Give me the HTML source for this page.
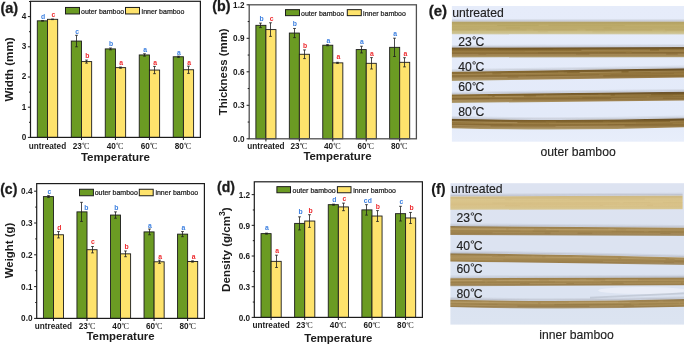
<!DOCTYPE html><html><head><meta charset="utf-8"><style>html,body{margin:0;padding:0;background:#fff;width:685px;height:346px;overflow:hidden}svg{display:block;will-change:transform}</style></head><body>
<svg width="685" height="346" viewBox="0 0 685 346">
<rect width="685" height="346" fill="#fff"/>
<rect x="37.30" y="20.83" width="10.19" height="116.57" fill="#6b9b23" stroke="#1c1c1c" stroke-width="0.9"/>
<path d="M42.50 20.53V21.13M41.10 20.53h2.8M41.10 21.13h2.8" stroke="#1e1e1e" stroke-width="0.8" fill="none"/>
<text x="43.09" y="18.93" font-size="6.8" font-weight="bold" text-anchor="middle" fill="#3b7fe0" font-family='"Liberation Sans", sans-serif' >d</text>
<rect x="47.49" y="19.32" width="10.19" height="118.08" fill="#fee36c" stroke="#1c1c1c" stroke-width="0.9"/>
<path d="M52.50 19.02V19.62M51.10 19.02h2.8M51.10 19.62h2.8" stroke="#1e1e1e" stroke-width="0.8" fill="none"/>
<text x="53.29" y="17.42" font-size="6.8" font-weight="bold" text-anchor="middle" fill="#ee2a2e" font-family='"Liberation Sans", sans-serif' >c</text>
<rect x="71.28" y="41.06" width="10.19" height="96.34" fill="#6b9b23" stroke="#1c1c1c" stroke-width="0.9"/>
<path d="M76.50 35.32V46.80M75.10 35.32h2.8M75.10 46.80h2.8" stroke="#1e1e1e" stroke-width="0.8" fill="none"/>
<text x="77.07" y="33.72" font-size="6.8" font-weight="bold" text-anchor="middle" fill="#3b7fe0" font-family='"Liberation Sans", sans-serif' >c</text>
<rect x="81.47" y="61.60" width="10.19" height="75.80" fill="#fee36c" stroke="#1c1c1c" stroke-width="0.9"/>
<path d="M86.50 60.09V63.11M85.10 60.09h2.8M85.10 63.11h2.8" stroke="#1e1e1e" stroke-width="0.8" fill="none"/>
<text x="87.27" y="58.49" font-size="6.8" font-weight="bold" text-anchor="middle" fill="#ee2a2e" font-family='"Liberation Sans", sans-serif' >b</text>
<rect x="105.26" y="48.91" width="10.19" height="88.49" fill="#6b9b23" stroke="#1c1c1c" stroke-width="0.9"/>
<path d="M110.50 48.01V49.82M109.10 48.01h2.8M109.10 49.82h2.8" stroke="#1e1e1e" stroke-width="0.8" fill="none"/>
<text x="111.05" y="46.41" font-size="6.8" font-weight="bold" text-anchor="middle" fill="#3b7fe0" font-family='"Liberation Sans", sans-serif' >b</text>
<rect x="115.45" y="67.64" width="10.19" height="69.76" fill="#fee36c" stroke="#1c1c1c" stroke-width="0.9"/>
<path d="M120.50 67.03V68.24M119.10 67.03h2.8M119.10 68.24h2.8" stroke="#1e1e1e" stroke-width="0.8" fill="none"/>
<text x="121.25" y="65.43" font-size="6.8" font-weight="bold" text-anchor="middle" fill="#ee2a2e" font-family='"Liberation Sans", sans-serif' >a</text>
<rect x="139.24" y="54.95" width="10.19" height="82.45" fill="#6b9b23" stroke="#1c1c1c" stroke-width="0.9"/>
<path d="M144.50 53.75V56.16M143.10 53.75h2.8M143.10 56.16h2.8" stroke="#1e1e1e" stroke-width="0.8" fill="none"/>
<text x="145.03" y="52.15" font-size="6.8" font-weight="bold" text-anchor="middle" fill="#3b7fe0" font-family='"Liberation Sans", sans-serif' >a</text>
<rect x="149.43" y="70.05" width="10.19" height="67.35" fill="#fee36c" stroke="#1c1c1c" stroke-width="0.9"/>
<path d="M154.50 66.43V73.68M153.10 66.43h2.8M153.10 73.68h2.8" stroke="#1e1e1e" stroke-width="0.8" fill="none"/>
<text x="155.23" y="64.83" font-size="6.8" font-weight="bold" text-anchor="middle" fill="#ee2a2e" font-family='"Liberation Sans", sans-serif' >a</text>
<rect x="173.22" y="56.77" width="10.19" height="80.63" fill="#6b9b23" stroke="#1c1c1c" stroke-width="0.9"/>
<path d="M178.50 56.16V57.37M177.10 56.16h2.8M177.10 57.37h2.8" stroke="#1e1e1e" stroke-width="0.8" fill="none"/>
<text x="179.01" y="54.56" font-size="6.8" font-weight="bold" text-anchor="middle" fill="#3b7fe0" font-family='"Liberation Sans", sans-serif' >a</text>
<rect x="183.41" y="69.75" width="10.19" height="67.65" fill="#fee36c" stroke="#1c1c1c" stroke-width="0.9"/>
<path d="M188.50 66.13V73.38M187.10 66.13h2.8M187.10 73.38h2.8" stroke="#1e1e1e" stroke-width="0.8" fill="none"/>
<text x="189.21" y="64.53" font-size="6.8" font-weight="bold" text-anchor="middle" fill="#ee2a2e" font-family='"Liberation Sans", sans-serif' >a</text>
<rect x="30.50" y="1.30" width="169.90" height="136.10" fill="none" stroke="#1c1c1c" stroke-width="1.2"/>
<path d="M27.90 137.40H30.50" stroke="#1c1c1c" stroke-width="1"/>
<text x="26.30" y="139.80" font-size="8.2" font-weight="bold" text-anchor="end" fill="#1c1c1c" font-family='"Liberation Sans", sans-serif' >0</text>
<path d="M27.90 107.20H30.50" stroke="#1c1c1c" stroke-width="1"/>
<text x="26.30" y="109.60" font-size="8.2" font-weight="bold" text-anchor="end" fill="#1c1c1c" font-family='"Liberation Sans", sans-serif' >1</text>
<path d="M27.90 77.00H30.50" stroke="#1c1c1c" stroke-width="1"/>
<text x="26.30" y="79.40" font-size="8.2" font-weight="bold" text-anchor="end" fill="#1c1c1c" font-family='"Liberation Sans", sans-serif' >2</text>
<path d="M27.90 46.80H30.50" stroke="#1c1c1c" stroke-width="1"/>
<text x="26.30" y="49.20" font-size="8.2" font-weight="bold" text-anchor="end" fill="#1c1c1c" font-family='"Liberation Sans", sans-serif' >3</text>
<path d="M27.90 16.60H30.50" stroke="#1c1c1c" stroke-width="1"/>
<text x="26.30" y="19.00" font-size="8.2" font-weight="bold" text-anchor="end" fill="#1c1c1c" font-family='"Liberation Sans", sans-serif' >4</text>
<path d="M29.00 122.30H30.50" stroke="#1c1c1c" stroke-width="1"/>
<path d="M29.00 92.10H30.50" stroke="#1c1c1c" stroke-width="1"/>
<path d="M29.00 61.90H30.50" stroke="#1c1c1c" stroke-width="1"/>
<path d="M29.00 31.70H30.50" stroke="#1c1c1c" stroke-width="1"/>
<path d="M29.00 1.50H30.50" stroke="#1c1c1c" stroke-width="1"/>
<path d="M47.49 137.40V140.00" stroke="#1c1c1c" stroke-width="1"/>
<text x="47.49" y="148.50" font-size="8.2" font-weight="bold" text-anchor="middle" fill="#1c1c1c" font-family='"Liberation Sans", sans-serif' >untreated</text>
<path d="M81.47 137.40V140.00" stroke="#1c1c1c" stroke-width="1"/>
<text x="72.77" y="148.50" font-size="8.2" font-weight="bold" text-anchor="start" fill="#1c1c1c" font-family='"Liberation Sans", sans-serif' >23</text>
<circle cx="83.26" cy="143.74" r="0.74" fill="none" stroke="#1c1c1c" stroke-width="0.55"/>
<text x="83.91" y="148.50" font-size="8.20" fill="#1c1c1c" font-family='"Liberation Serif", serif'>C</text>
<path d="M115.45 137.40V140.00" stroke="#1c1c1c" stroke-width="1"/>
<text x="106.75" y="148.50" font-size="8.2" font-weight="bold" text-anchor="start" fill="#1c1c1c" font-family='"Liberation Sans", sans-serif' >40</text>
<circle cx="117.24" cy="143.74" r="0.74" fill="none" stroke="#1c1c1c" stroke-width="0.55"/>
<text x="117.89" y="148.50" font-size="8.20" fill="#1c1c1c" font-family='"Liberation Serif", serif'>C</text>
<path d="M149.43 137.40V140.00" stroke="#1c1c1c" stroke-width="1"/>
<text x="140.73" y="148.50" font-size="8.2" font-weight="bold" text-anchor="start" fill="#1c1c1c" font-family='"Liberation Sans", sans-serif' >60</text>
<circle cx="151.22" cy="143.74" r="0.74" fill="none" stroke="#1c1c1c" stroke-width="0.55"/>
<text x="151.87" y="148.50" font-size="8.20" fill="#1c1c1c" font-family='"Liberation Serif", serif'>C</text>
<path d="M183.41 137.40V140.00" stroke="#1c1c1c" stroke-width="1"/>
<text x="174.71" y="148.50" font-size="8.2" font-weight="bold" text-anchor="start" fill="#1c1c1c" font-family='"Liberation Sans", sans-serif' >80</text>
<circle cx="185.20" cy="143.74" r="0.74" fill="none" stroke="#1c1c1c" stroke-width="0.55"/>
<text x="185.85" y="148.50" font-size="8.20" fill="#1c1c1c" font-family='"Liberation Serif", serif'>C</text>
<text x="115.45" y="160.90" font-size="11.55" font-weight="bold" text-anchor="middle" fill="#1c1c1c" font-family='"Liberation Sans", sans-serif' >Temperature</text>
<text transform="translate(12.80,69.35) rotate(-90)" x="0" y="0" font-size="11.7" font-weight="bold" text-anchor="middle" fill="#1c1c1c" font-family='"Liberation Sans", sans-serif'>Width (mm)</text>
<rect x="65.50" y="7.45" width="14.00" height="6.50" fill="#6b9b23" stroke="#1c1c1c" stroke-width="1.0"/>
<text x="81.00" y="13.60" font-size="7.0" font-weight="normal" text-anchor="start" fill="#1c1c1c" font-family='"Liberation Sans", sans-serif' stroke="#1c1c1c" stroke-width="0.22">outer bamboo</text>
<rect x="125.50" y="7.45" width="14.00" height="6.50" fill="#fee36c" stroke="#1c1c1c" stroke-width="1.0"/>
<text x="141.60" y="13.60" font-size="7.0" font-weight="normal" text-anchor="start" fill="#1c1c1c" font-family='"Liberation Sans", sans-serif' stroke="#1c1c1c" stroke-width="0.22">inner bamboo</text>
<text x="0.40" y="12.70" font-size="14.5" font-weight="bold" text-anchor="start" fill="#1c1c1c" font-family='"Liberation Sans", sans-serif' stroke="#1c1c1c" stroke-width="0.3">(a)</text>
<rect x="255.89" y="25.34" width="10.03" height="113.46" fill="#6b9b23" stroke="#1c1c1c" stroke-width="0.9"/>
<path d="M260.50 23.11V27.58M259.10 23.11h2.8M259.10 27.58h2.8" stroke="#1e1e1e" stroke-width="0.8" fill="none"/>
<text x="261.50" y="21.11" font-size="6.8" font-weight="bold" text-anchor="middle" fill="#3b7fe0" font-family='"Liberation Sans", sans-serif' >b</text>
<rect x="265.92" y="29.59" width="10.03" height="109.21" fill="#fee36c" stroke="#1c1c1c" stroke-width="0.9"/>
<path d="M270.50 22.77V36.40M269.10 22.77h2.8M269.10 36.40h2.8" stroke="#1e1e1e" stroke-width="0.8" fill="none"/>
<text x="271.54" y="20.77" font-size="6.8" font-weight="bold" text-anchor="middle" fill="#ee2a2e" font-family='"Liberation Sans", sans-serif' >c</text>
<rect x="289.33" y="33.05" width="10.03" height="105.75" fill="#6b9b23" stroke="#1c1c1c" stroke-width="0.9"/>
<path d="M294.50 28.47V37.63M293.10 28.47h2.8M293.10 37.63h2.8" stroke="#1e1e1e" stroke-width="0.8" fill="none"/>
<text x="294.94" y="26.47" font-size="6.8" font-weight="bold" text-anchor="middle" fill="#3b7fe0" font-family='"Liberation Sans", sans-serif' >b</text>
<rect x="299.36" y="54.27" width="10.03" height="84.53" fill="#fee36c" stroke="#1c1c1c" stroke-width="0.9"/>
<path d="M304.50 49.91V58.62M303.10 49.91h2.8M303.10 58.62h2.8" stroke="#1e1e1e" stroke-width="0.8" fill="none"/>
<text x="304.98" y="47.91" font-size="6.8" font-weight="bold" text-anchor="middle" fill="#ee2a2e" font-family='"Liberation Sans", sans-serif' >b</text>
<rect x="322.77" y="45.22" width="10.03" height="93.58" fill="#6b9b23" stroke="#1c1c1c" stroke-width="0.9"/>
<path d="M327.50 44.66V45.78M326.10 44.66h2.8M326.10 45.78h2.8" stroke="#1e1e1e" stroke-width="0.8" fill="none"/>
<text x="328.38" y="42.66" font-size="6.8" font-weight="bold" text-anchor="middle" fill="#3b7fe0" font-family='"Liberation Sans", sans-serif' >a</text>
<rect x="332.80" y="62.86" width="10.03" height="75.94" fill="#fee36c" stroke="#1c1c1c" stroke-width="0.9"/>
<path d="M337.50 62.31V63.42M336.10 62.31h2.8M336.10 63.42h2.8" stroke="#1e1e1e" stroke-width="0.8" fill="none"/>
<text x="338.42" y="58.91" font-size="6.8" font-weight="bold" text-anchor="middle" fill="#ee2a2e" font-family='"Liberation Sans", sans-serif' >a</text>
<rect x="356.21" y="49.58" width="10.03" height="89.22" fill="#6b9b23" stroke="#1c1c1c" stroke-width="0.9"/>
<path d="M361.50 46.23V52.93M360.10 46.23h2.8M360.10 52.93h2.8" stroke="#1e1e1e" stroke-width="0.8" fill="none"/>
<text x="361.82" y="44.23" font-size="6.8" font-weight="bold" text-anchor="middle" fill="#3b7fe0" font-family='"Liberation Sans", sans-serif' >a</text>
<rect x="366.24" y="63.31" width="10.03" height="75.49" fill="#fee36c" stroke="#1c1c1c" stroke-width="0.9"/>
<path d="M371.50 57.62V69.01M370.10 57.62h2.8M370.10 69.01h2.8" stroke="#1e1e1e" stroke-width="0.8" fill="none"/>
<text x="371.86" y="55.62" font-size="6.8" font-weight="bold" text-anchor="middle" fill="#ee2a2e" font-family='"Liberation Sans", sans-serif' >a</text>
<rect x="389.65" y="47.34" width="10.03" height="91.46" fill="#6b9b23" stroke="#1c1c1c" stroke-width="0.9"/>
<path d="M394.50 38.19V56.50M393.10 38.19h2.8M393.10 56.50h2.8" stroke="#1e1e1e" stroke-width="0.8" fill="none"/>
<text x="395.26" y="36.19" font-size="6.8" font-weight="bold" text-anchor="middle" fill="#3b7fe0" font-family='"Liberation Sans", sans-serif' >a</text>
<rect x="399.68" y="62.31" width="10.03" height="76.49" fill="#fee36c" stroke="#1c1c1c" stroke-width="0.9"/>
<path d="M404.50 57.73V66.88M403.10 57.73h2.8M403.10 66.88h2.8" stroke="#1e1e1e" stroke-width="0.8" fill="none"/>
<text x="405.30" y="55.73" font-size="6.8" font-weight="bold" text-anchor="middle" fill="#ee2a2e" font-family='"Liberation Sans", sans-serif' >a</text>
<rect x="249.20" y="4.80" width="167.20" height="134.00" fill="none" stroke="#505050" stroke-width="1.3"/>
<path d="M246.60 138.80H249.20" stroke="#1c1c1c" stroke-width="1"/>
<text x="244.50" y="141.75" font-size="8.2" font-weight="bold" text-anchor="end" fill="#1c1c1c" font-family='"Liberation Sans", sans-serif' >0.0</text>
<path d="M246.60 105.30H249.20" stroke="#1c1c1c" stroke-width="1"/>
<text x="244.50" y="108.25" font-size="8.2" font-weight="bold" text-anchor="end" fill="#1c1c1c" font-family='"Liberation Sans", sans-serif' >0.3</text>
<path d="M246.60 71.80H249.20" stroke="#1c1c1c" stroke-width="1"/>
<text x="244.50" y="74.75" font-size="8.2" font-weight="bold" text-anchor="end" fill="#1c1c1c" font-family='"Liberation Sans", sans-serif' >0.6</text>
<path d="M246.60 38.30H249.20" stroke="#1c1c1c" stroke-width="1"/>
<text x="244.50" y="41.25" font-size="8.2" font-weight="bold" text-anchor="end" fill="#1c1c1c" font-family='"Liberation Sans", sans-serif' >0.9</text>
<path d="M246.60 4.80H249.20" stroke="#1c1c1c" stroke-width="1"/>
<text x="244.50" y="7.75" font-size="8.2" font-weight="bold" text-anchor="end" fill="#1c1c1c" font-family='"Liberation Sans", sans-serif' >1.2</text>
<path d="M247.70 122.05H249.20" stroke="#1c1c1c" stroke-width="1"/>
<path d="M247.70 88.55H249.20" stroke="#1c1c1c" stroke-width="1"/>
<path d="M247.70 55.05H249.20" stroke="#1c1c1c" stroke-width="1"/>
<path d="M247.70 21.55H249.20" stroke="#1c1c1c" stroke-width="1"/>
<path d="M265.92 138.80V141.40" stroke="#1c1c1c" stroke-width="1"/>
<text x="265.92" y="148.80" font-size="8.2" font-weight="bold" text-anchor="middle" fill="#1c1c1c" font-family='"Liberation Sans", sans-serif' >untreated</text>
<path d="M299.36 138.80V141.40" stroke="#1c1c1c" stroke-width="1"/>
<text x="290.56" y="148.80" font-size="8.2" font-weight="bold" text-anchor="start" fill="#1c1c1c" font-family='"Liberation Sans", sans-serif' >23</text>
<circle cx="301.05" cy="144.04" r="0.74" fill="none" stroke="#1c1c1c" stroke-width="0.55"/>
<text x="301.70" y="148.80" font-size="8.20" fill="#1c1c1c" font-family='"Liberation Serif", serif'>C</text>
<path d="M332.80 138.80V141.40" stroke="#1c1c1c" stroke-width="1"/>
<text x="324.00" y="148.80" font-size="8.2" font-weight="bold" text-anchor="start" fill="#1c1c1c" font-family='"Liberation Sans", sans-serif' >40</text>
<circle cx="334.49" cy="144.04" r="0.74" fill="none" stroke="#1c1c1c" stroke-width="0.55"/>
<text x="335.14" y="148.80" font-size="8.20" fill="#1c1c1c" font-family='"Liberation Serif", serif'>C</text>
<path d="M366.24 138.80V141.40" stroke="#1c1c1c" stroke-width="1"/>
<text x="357.44" y="148.80" font-size="8.2" font-weight="bold" text-anchor="start" fill="#1c1c1c" font-family='"Liberation Sans", sans-serif' >60</text>
<circle cx="367.93" cy="144.04" r="0.74" fill="none" stroke="#1c1c1c" stroke-width="0.55"/>
<text x="368.58" y="148.80" font-size="8.20" fill="#1c1c1c" font-family='"Liberation Serif", serif'>C</text>
<path d="M399.68 138.80V141.40" stroke="#1c1c1c" stroke-width="1"/>
<text x="390.88" y="148.80" font-size="8.2" font-weight="bold" text-anchor="start" fill="#1c1c1c" font-family='"Liberation Sans", sans-serif' >80</text>
<circle cx="401.37" cy="144.04" r="0.74" fill="none" stroke="#1c1c1c" stroke-width="0.55"/>
<text x="402.02" y="148.80" font-size="8.20" fill="#1c1c1c" font-family='"Liberation Serif", serif'>C</text>
<text x="337.50" y="160.10" font-size="11.4" font-weight="bold" text-anchor="middle" fill="#1c1c1c" font-family='"Liberation Sans", sans-serif' >Temperature</text>
<text transform="translate(226.60,71.80) rotate(-90)" x="0" y="0" font-size="11.4" font-weight="bold" text-anchor="middle" fill="#1c1c1c" font-family='"Liberation Sans", sans-serif'>Thickness (mm)</text>
<rect x="285.50" y="9.65" width="14.00" height="6.00" fill="#6b9b23" stroke="#1c1c1c" stroke-width="1.0"/>
<text x="301.00" y="15.50" font-size="7.0" font-weight="normal" text-anchor="start" fill="#1c1c1c" font-family='"Liberation Sans", sans-serif' stroke="#1c1c1c" stroke-width="0.22">outer bamboo</text>
<rect x="347.30" y="9.65" width="14.00" height="6.00" fill="#fee36c" stroke="#1c1c1c" stroke-width="1.0"/>
<text x="363.10" y="15.50" font-size="7.0" font-weight="normal" text-anchor="start" fill="#1c1c1c" font-family='"Liberation Sans", sans-serif' stroke="#1c1c1c" stroke-width="0.22">inner bamboo</text>
<text x="212.20" y="11.30" font-size="14.3" font-weight="bold" text-anchor="start" fill="#1c1c1c" font-family='"Liberation Sans", sans-serif' stroke="#1c1c1c" stroke-width="0.3">(b)</text>
<rect x="43.41" y="196.61" width="10.06" height="121.79" fill="#6b9b23" stroke="#1c1c1c" stroke-width="0.9"/>
<path d="M48.50 195.65V197.56M47.10 195.65h2.8M47.10 197.56h2.8" stroke="#1e1e1e" stroke-width="0.8" fill="none"/>
<text x="49.34" y="194.15" font-size="6.8" font-weight="bold" text-anchor="middle" fill="#3b7fe0" font-family='"Liberation Sans", sans-serif' >c</text>
<rect x="53.47" y="234.77" width="10.06" height="83.63" fill="#fee36c" stroke="#1c1c1c" stroke-width="0.9"/>
<path d="M58.50 231.59V237.95M57.10 231.59h2.8M57.10 237.95h2.8" stroke="#1e1e1e" stroke-width="0.8" fill="none"/>
<text x="59.40" y="230.09" font-size="6.8" font-weight="bold" text-anchor="middle" fill="#ee2a2e" font-family='"Liberation Sans", sans-serif' >d</text>
<rect x="76.95" y="211.87" width="10.06" height="106.53" fill="#6b9b23" stroke="#1c1c1c" stroke-width="0.9"/>
<path d="M81.50 202.33V221.41M80.10 202.33h2.8M80.10 221.41h2.8" stroke="#1e1e1e" stroke-width="0.8" fill="none"/>
<text x="84.18" y="209.83" font-size="6.8" font-weight="bold" text-anchor="start" fill="#3b7fe0" font-family='"Liberation Sans", sans-serif' >b</text>
<rect x="87.01" y="249.71" width="10.06" height="68.69" fill="#fee36c" stroke="#1c1c1c" stroke-width="0.9"/>
<path d="M92.50 246.53V252.89M91.10 246.53h2.8M91.10 252.89h2.8" stroke="#1e1e1e" stroke-width="0.8" fill="none"/>
<text x="92.94" y="244.23" font-size="6.8" font-weight="bold" text-anchor="middle" fill="#ee2a2e" font-family='"Liberation Sans", sans-serif' >c</text>
<rect x="110.49" y="215.05" width="10.06" height="103.35" fill="#6b9b23" stroke="#1c1c1c" stroke-width="0.9"/>
<path d="M115.50 211.87V218.23M114.10 211.87h2.8M114.10 218.23h2.8" stroke="#1e1e1e" stroke-width="0.8" fill="none"/>
<text x="116.42" y="210.37" font-size="6.8" font-weight="bold" text-anchor="middle" fill="#3b7fe0" font-family='"Liberation Sans", sans-serif' >b</text>
<rect x="120.55" y="253.85" width="10.06" height="64.55" fill="#fee36c" stroke="#1c1c1c" stroke-width="0.9"/>
<path d="M125.50 250.98V256.71M124.10 250.98h2.8M124.10 256.71h2.8" stroke="#1e1e1e" stroke-width="0.8" fill="none"/>
<text x="126.48" y="249.48" font-size="6.8" font-weight="bold" text-anchor="middle" fill="#ee2a2e" font-family='"Liberation Sans", sans-serif' >b</text>
<rect x="144.03" y="231.90" width="10.06" height="86.50" fill="#6b9b23" stroke="#1c1c1c" stroke-width="0.9"/>
<path d="M149.50 229.04V234.77M148.10 229.04h2.8M148.10 234.77h2.8" stroke="#1e1e1e" stroke-width="0.8" fill="none"/>
<text x="149.96" y="227.54" font-size="6.8" font-weight="bold" text-anchor="middle" fill="#3b7fe0" font-family='"Liberation Sans", sans-serif' >a</text>
<rect x="154.09" y="261.80" width="10.06" height="56.60" fill="#fee36c" stroke="#1c1c1c" stroke-width="0.9"/>
<path d="M159.50 260.21V263.39M158.10 260.21h2.8M158.10 263.39h2.8" stroke="#1e1e1e" stroke-width="0.8" fill="none"/>
<text x="160.02" y="258.71" font-size="6.8" font-weight="bold" text-anchor="middle" fill="#ee2a2e" font-family='"Liberation Sans", sans-serif' >a</text>
<rect x="177.57" y="234.13" width="10.06" height="84.27" fill="#6b9b23" stroke="#1c1c1c" stroke-width="0.9"/>
<path d="M182.50 231.59V236.67M181.10 231.59h2.8M181.10 236.67h2.8" stroke="#1e1e1e" stroke-width="0.8" fill="none"/>
<text x="183.50" y="230.09" font-size="6.8" font-weight="bold" text-anchor="middle" fill="#3b7fe0" font-family='"Liberation Sans", sans-serif' >a</text>
<rect x="187.63" y="261.48" width="10.06" height="56.92" fill="#fee36c" stroke="#1c1c1c" stroke-width="0.9"/>
<path d="M192.50 260.84V262.11M191.10 260.84h2.8M191.10 262.11h2.8" stroke="#1e1e1e" stroke-width="0.8" fill="none"/>
<text x="193.56" y="259.34" font-size="6.8" font-weight="bold" text-anchor="middle" fill="#ee2a2e" font-family='"Liberation Sans", sans-serif' >a</text>
<rect x="36.70" y="183.60" width="167.70" height="134.80" fill="none" stroke="#1c1c1c" stroke-width="1.2"/>
<path d="M34.10 318.40H36.70" stroke="#1c1c1c" stroke-width="1"/>
<text x="32.50" y="321.35" font-size="8.2" font-weight="bold" text-anchor="end" fill="#1c1c1c" font-family='"Liberation Sans", sans-serif' >0.0</text>
<path d="M34.10 286.60H36.70" stroke="#1c1c1c" stroke-width="1"/>
<text x="32.50" y="289.55" font-size="8.2" font-weight="bold" text-anchor="end" fill="#1c1c1c" font-family='"Liberation Sans", sans-serif' >0.1</text>
<path d="M34.10 254.80H36.70" stroke="#1c1c1c" stroke-width="1"/>
<text x="32.50" y="257.75" font-size="8.2" font-weight="bold" text-anchor="end" fill="#1c1c1c" font-family='"Liberation Sans", sans-serif' >0.2</text>
<path d="M34.10 223.00H36.70" stroke="#1c1c1c" stroke-width="1"/>
<text x="32.50" y="225.95" font-size="8.2" font-weight="bold" text-anchor="end" fill="#1c1c1c" font-family='"Liberation Sans", sans-serif' >0.3</text>
<path d="M34.10 191.20H36.70" stroke="#1c1c1c" stroke-width="1"/>
<text x="32.50" y="194.15" font-size="8.2" font-weight="bold" text-anchor="end" fill="#1c1c1c" font-family='"Liberation Sans", sans-serif' >0.4</text>
<path d="M35.20 302.50H36.70" stroke="#1c1c1c" stroke-width="1"/>
<path d="M35.20 270.70H36.70" stroke="#1c1c1c" stroke-width="1"/>
<path d="M35.20 238.90H36.70" stroke="#1c1c1c" stroke-width="1"/>
<path d="M35.20 207.10H36.70" stroke="#1c1c1c" stroke-width="1"/>
<path d="M53.47 318.40V321.00" stroke="#1c1c1c" stroke-width="1"/>
<text x="53.47" y="328.80" font-size="8.2" font-weight="bold" text-anchor="middle" fill="#1c1c1c" font-family='"Liberation Sans", sans-serif' >untreated</text>
<path d="M87.01 318.40V321.00" stroke="#1c1c1c" stroke-width="1"/>
<text x="78.81" y="328.80" font-size="8.2" font-weight="bold" text-anchor="start" fill="#1c1c1c" font-family='"Liberation Sans", sans-serif' >23</text>
<circle cx="89.30" cy="324.04" r="0.74" fill="none" stroke="#1c1c1c" stroke-width="0.55"/>
<text x="89.95" y="328.80" font-size="8.20" fill="#1c1c1c" font-family='"Liberation Serif", serif'>C</text>
<path d="M120.55 318.40V321.00" stroke="#1c1c1c" stroke-width="1"/>
<text x="112.35" y="328.80" font-size="8.2" font-weight="bold" text-anchor="start" fill="#1c1c1c" font-family='"Liberation Sans", sans-serif' >40</text>
<circle cx="122.84" cy="324.04" r="0.74" fill="none" stroke="#1c1c1c" stroke-width="0.55"/>
<text x="123.49" y="328.80" font-size="8.20" fill="#1c1c1c" font-family='"Liberation Serif", serif'>C</text>
<path d="M154.09 318.40V321.00" stroke="#1c1c1c" stroke-width="1"/>
<text x="145.89" y="328.80" font-size="8.2" font-weight="bold" text-anchor="start" fill="#1c1c1c" font-family='"Liberation Sans", sans-serif' >60</text>
<circle cx="156.38" cy="324.04" r="0.74" fill="none" stroke="#1c1c1c" stroke-width="0.55"/>
<text x="157.03" y="328.80" font-size="8.20" fill="#1c1c1c" font-family='"Liberation Serif", serif'>C</text>
<path d="M187.63 318.40V321.00" stroke="#1c1c1c" stroke-width="1"/>
<text x="179.43" y="328.80" font-size="8.2" font-weight="bold" text-anchor="start" fill="#1c1c1c" font-family='"Liberation Sans", sans-serif' >80</text>
<circle cx="189.92" cy="324.04" r="0.74" fill="none" stroke="#1c1c1c" stroke-width="0.55"/>
<text x="190.57" y="328.80" font-size="8.20" fill="#1c1c1c" font-family='"Liberation Serif", serif'>C</text>
<text x="120.55" y="340.20" font-size="11.4" font-weight="bold" text-anchor="middle" fill="#1c1c1c" font-family='"Liberation Sans", sans-serif' >Temperature</text>
<text transform="translate(12.70,250.50) rotate(-90)" x="0" y="0" font-size="11.4" font-weight="bold" text-anchor="middle" fill="#1c1c1c" font-family='"Liberation Sans", sans-serif'>Weight (g)</text>
<rect x="79.50" y="189.25" width="13.90" height="6.50" fill="#6b9b23" stroke="#1c1c1c" stroke-width="1.0"/>
<text x="94.70" y="195.40" font-size="7.0" font-weight="normal" text-anchor="start" fill="#1c1c1c" font-family='"Liberation Sans", sans-serif' stroke="#1c1c1c" stroke-width="0.22">outer bamboo</text>
<rect x="139.30" y="189.25" width="13.90" height="6.50" fill="#fee36c" stroke="#1c1c1c" stroke-width="1.0"/>
<text x="155.40" y="195.40" font-size="7.0" font-weight="normal" text-anchor="start" fill="#1c1c1c" font-family='"Liberation Sans", sans-serif' stroke="#1c1c1c" stroke-width="0.22">inner bamboo</text>
<text x="0.20" y="194.20" font-size="14.0" font-weight="bold" text-anchor="start" fill="#1c1c1c" font-family='"Liberation Sans", sans-serif' stroke="#1c1c1c" stroke-width="0.3">(c)</text>
<rect x="261.02" y="233.62" width="10.09" height="83.78" fill="#6b9b23" stroke="#1c1c1c" stroke-width="0.9"/>
<path d="M266.50 233.10V234.13M265.10 233.10h2.8M265.10 234.13h2.8" stroke="#1e1e1e" stroke-width="0.8" fill="none"/>
<text x="266.97" y="229.80" font-size="6.8" font-weight="bold" text-anchor="middle" fill="#3b7fe0" font-family='"Liberation Sans", sans-serif' >a</text>
<rect x="271.11" y="261.34" width="10.09" height="56.06" fill="#fee36c" stroke="#1c1c1c" stroke-width="0.9"/>
<path d="M276.50 255.20V267.48M275.10 255.20h2.8M275.10 267.48h2.8" stroke="#1e1e1e" stroke-width="0.8" fill="none"/>
<text x="277.05" y="253.20" font-size="6.8" font-weight="bold" text-anchor="middle" fill="#ee2a2e" font-family='"Liberation Sans", sans-serif' >a</text>
<rect x="294.64" y="223.39" width="10.09" height="94.01" fill="#6b9b23" stroke="#1c1c1c" stroke-width="0.9"/>
<path d="M299.50 216.84V229.93M298.10 216.84h2.8M298.10 229.93h2.8" stroke="#1e1e1e" stroke-width="0.8" fill="none"/>
<text x="300.59" y="213.54" font-size="6.8" font-weight="bold" text-anchor="middle" fill="#3b7fe0" font-family='"Liberation Sans", sans-serif' >b</text>
<rect x="304.73" y="221.03" width="10.09" height="96.37" fill="#fee36c" stroke="#1c1c1c" stroke-width="0.9"/>
<path d="M309.50 214.69V227.38M308.10 214.69h2.8M308.10 227.38h2.8" stroke="#1e1e1e" stroke-width="0.8" fill="none"/>
<text x="310.67" y="212.69" font-size="6.8" font-weight="bold" text-anchor="middle" fill="#ee2a2e" font-family='"Liberation Sans", sans-serif' >b</text>
<rect x="328.26" y="204.67" width="10.09" height="112.73" fill="#6b9b23" stroke="#1c1c1c" stroke-width="0.9"/>
<path d="M333.50 204.15V205.18M332.10 204.15h2.8M332.10 205.18h2.8" stroke="#1e1e1e" stroke-width="0.8" fill="none"/>
<text x="334.21" y="202.15" font-size="6.8" font-weight="bold" text-anchor="middle" fill="#3b7fe0" font-family='"Liberation Sans", sans-serif' >d</text>
<rect x="338.35" y="206.92" width="10.09" height="110.48" fill="#fee36c" stroke="#1c1c1c" stroke-width="0.9"/>
<path d="M343.50 203.13V210.70M342.10 203.13h2.8M342.10 210.70h2.8" stroke="#1e1e1e" stroke-width="0.8" fill="none"/>
<text x="344.29" y="201.13" font-size="6.8" font-weight="bold" text-anchor="middle" fill="#ee2a2e" font-family='"Liberation Sans", sans-serif' >c</text>
<rect x="361.88" y="209.88" width="10.09" height="107.52" fill="#6b9b23" stroke="#1c1c1c" stroke-width="0.9"/>
<path d="M366.50 204.67V215.10M365.10 204.67h2.8M365.10 215.10h2.8" stroke="#1e1e1e" stroke-width="0.8" fill="none"/>
<text x="367.83" y="202.67" font-size="6.8" font-weight="bold" text-anchor="middle" fill="#3b7fe0" font-family='"Liberation Sans", sans-serif' >cd</text>
<rect x="371.97" y="216.02" width="10.09" height="101.38" fill="#fee36c" stroke="#1c1c1c" stroke-width="0.9"/>
<path d="M377.50 210.60V221.44M376.10 210.60h2.8M376.10 221.44h2.8" stroke="#1e1e1e" stroke-width="0.8" fill="none"/>
<text x="377.91" y="208.60" font-size="6.8" font-weight="bold" text-anchor="middle" fill="#ee2a2e" font-family='"Liberation Sans", sans-serif' >b</text>
<rect x="395.50" y="213.67" width="10.09" height="103.73" fill="#6b9b23" stroke="#1c1c1c" stroke-width="0.9"/>
<path d="M400.50 206.30V221.03M399.10 206.30h2.8M399.10 221.03h2.8" stroke="#1e1e1e" stroke-width="0.8" fill="none"/>
<text x="401.45" y="204.30" font-size="6.8" font-weight="bold" text-anchor="middle" fill="#3b7fe0" font-family='"Liberation Sans", sans-serif' >c</text>
<rect x="405.59" y="217.96" width="10.09" height="99.44" fill="#fee36c" stroke="#1c1c1c" stroke-width="0.9"/>
<path d="M410.50 212.44V223.49M409.10 212.44h2.8M409.10 223.49h2.8" stroke="#1e1e1e" stroke-width="0.8" fill="none"/>
<text x="411.53" y="210.44" font-size="6.8" font-weight="bold" text-anchor="middle" fill="#ee2a2e" font-family='"Liberation Sans", sans-serif' >b</text>
<rect x="254.30" y="181.80" width="168.10" height="135.60" fill="none" stroke="#1c1c1c" stroke-width="1.2"/>
<path d="M251.70 317.40H254.30" stroke="#1c1c1c" stroke-width="1"/>
<text x="250.10" y="320.60" font-size="8.2" font-weight="bold" text-anchor="end" fill="#1c1c1c" font-family='"Liberation Sans", sans-serif' >0.0</text>
<path d="M251.70 286.71H254.30" stroke="#1c1c1c" stroke-width="1"/>
<text x="250.10" y="289.91" font-size="8.2" font-weight="bold" text-anchor="end" fill="#1c1c1c" font-family='"Liberation Sans", sans-serif' >0.3</text>
<path d="M251.70 256.02H254.30" stroke="#1c1c1c" stroke-width="1"/>
<text x="250.10" y="259.22" font-size="8.2" font-weight="bold" text-anchor="end" fill="#1c1c1c" font-family='"Liberation Sans", sans-serif' >0.6</text>
<path d="M251.70 225.33H254.30" stroke="#1c1c1c" stroke-width="1"/>
<text x="250.10" y="228.53" font-size="8.2" font-weight="bold" text-anchor="end" fill="#1c1c1c" font-family='"Liberation Sans", sans-serif' >0.9</text>
<path d="M251.70 194.64H254.30" stroke="#1c1c1c" stroke-width="1"/>
<text x="250.10" y="197.84" font-size="8.2" font-weight="bold" text-anchor="end" fill="#1c1c1c" font-family='"Liberation Sans", sans-serif' >1.2</text>
<path d="M252.80 302.05H254.30" stroke="#1c1c1c" stroke-width="1"/>
<path d="M252.80 271.37H254.30" stroke="#1c1c1c" stroke-width="1"/>
<path d="M252.80 240.67H254.30" stroke="#1c1c1c" stroke-width="1"/>
<path d="M252.80 209.98H254.30" stroke="#1c1c1c" stroke-width="1"/>
<path d="M271.11 317.40V320.00" stroke="#1c1c1c" stroke-width="1"/>
<text x="271.11" y="328.10" font-size="8.2" font-weight="bold" text-anchor="middle" fill="#1c1c1c" font-family='"Liberation Sans", sans-serif' >untreated</text>
<path d="M304.73 317.40V320.00" stroke="#1c1c1c" stroke-width="1"/>
<text x="296.23" y="328.10" font-size="8.2" font-weight="bold" text-anchor="start" fill="#1c1c1c" font-family='"Liberation Sans", sans-serif' >23</text>
<circle cx="306.72" cy="323.34" r="0.74" fill="none" stroke="#1c1c1c" stroke-width="0.55"/>
<text x="307.37" y="328.10" font-size="8.20" fill="#1c1c1c" font-family='"Liberation Serif", serif'>C</text>
<path d="M338.35 317.40V320.00" stroke="#1c1c1c" stroke-width="1"/>
<text x="329.85" y="328.10" font-size="8.2" font-weight="bold" text-anchor="start" fill="#1c1c1c" font-family='"Liberation Sans", sans-serif' >40</text>
<circle cx="340.34" cy="323.34" r="0.74" fill="none" stroke="#1c1c1c" stroke-width="0.55"/>
<text x="340.99" y="328.10" font-size="8.20" fill="#1c1c1c" font-family='"Liberation Serif", serif'>C</text>
<path d="M371.97 317.40V320.00" stroke="#1c1c1c" stroke-width="1"/>
<text x="363.47" y="328.10" font-size="8.2" font-weight="bold" text-anchor="start" fill="#1c1c1c" font-family='"Liberation Sans", sans-serif' >60</text>
<circle cx="373.96" cy="323.34" r="0.74" fill="none" stroke="#1c1c1c" stroke-width="0.55"/>
<text x="374.61" y="328.10" font-size="8.20" fill="#1c1c1c" font-family='"Liberation Serif", serif'>C</text>
<path d="M405.59 317.40V320.00" stroke="#1c1c1c" stroke-width="1"/>
<text x="397.09" y="328.10" font-size="8.2" font-weight="bold" text-anchor="start" fill="#1c1c1c" font-family='"Liberation Sans", sans-serif' >80</text>
<circle cx="407.58" cy="323.34" r="0.74" fill="none" stroke="#1c1c1c" stroke-width="0.55"/>
<text x="408.23" y="328.10" font-size="8.20" fill="#1c1c1c" font-family='"Liberation Serif", serif'>C</text>
<text x="338.35" y="342.10" font-size="11.4" font-weight="bold" text-anchor="middle" fill="#1c1c1c" font-family='"Liberation Sans", sans-serif' >Temperature</text>
<text transform="translate(230.20,249.60) rotate(-90)" x="0" y="0" font-size="11.6" font-weight="bold" text-anchor="middle" fill="#1c1c1c" font-family='"Liberation Sans", sans-serif'>Density (g/cm<tspan dy="-5.6" font-size="8.6">3</tspan><tspan dy="5.6">)</tspan></text>
<rect x="276.90" y="186.65" width="13.60" height="6.10" fill="#6b9b23" stroke="#1c1c1c" stroke-width="1.0"/>
<text x="292.50" y="192.60" font-size="7.0" font-weight="normal" text-anchor="start" fill="#1c1c1c" font-family='"Liberation Sans", sans-serif' stroke="#1c1c1c" stroke-width="0.22">outer bamboo</text>
<rect x="337.40" y="186.65" width="13.60" height="6.10" fill="#fee36c" stroke="#1c1c1c" stroke-width="1.0"/>
<text x="353.20" y="192.60" font-size="7.0" font-weight="normal" text-anchor="start" fill="#1c1c1c" font-family='"Liberation Sans", sans-serif' stroke="#1c1c1c" stroke-width="0.22">inner bamboo</text>
<text x="217.00" y="192.40" font-size="14.0" font-weight="bold" text-anchor="start" fill="#1c1c1c" font-family='"Liberation Sans", sans-serif' stroke="#1c1c1c" stroke-width="0.3">(d)</text>
<linearGradient id="bgE" x1="0" y1="0" x2="0" y2="1"><stop offset="0" stop-color="#e6ecfa"/><stop offset="0.8" stop-color="#e3eaf9"/><stop offset="1" stop-color="#e8eefb"/></linearGradient>
<rect x="451.9" y="6.0" width="232.1" height="135.7" fill="url(#bgE)"/>
<linearGradient id="e1" x1="0" y1="0" x2="0" y2="1"><stop offset="0" stop-color="#b0a47c"/><stop offset="0.08" stop-color="#b4a262"/><stop offset="0.3" stop-color="#bfad6c"/><stop offset="0.5" stop-color="#b9a664"/><stop offset="0.7" stop-color="#c4b478"/><stop offset="0.88" stop-color="#cdc290"/><stop offset="1" stop-color="#d4cfb4"/></linearGradient>
<path d="M451.90 20.00L684.00 20.00" stroke="#6d6a70" stroke-opacity="0.1" stroke-width="2.2" fill="none"/>
<path d="M451.90 20.80L684.00 20.80" stroke="#6d6a70" stroke-opacity="0.16" stroke-width="1.2" fill="none"/>
<path d="M451.90 21.60L684.00 21.60L684.00 34.60L451.90 34.30Z" fill="url(#e1)"/>
<path d="M497.1 25.43L538.7 25.44" stroke="#9a8a48" stroke-opacity="0.25" stroke-width="0.8" fill="none"/>
<path d="M548.4 25.45L624.7 25.48" stroke="#9a8a48" stroke-opacity="0.18" stroke-width="0.8" fill="none"/>
<path d="M451.9 27.95L505.9 27.98" stroke="#dcd0a0" stroke-opacity="0.25" stroke-width="0.8" fill="none"/>
<path d="M520.0 27.99L603.6 28.05" stroke="#dcd0a0" stroke-opacity="0.21" stroke-width="0.8" fill="none"/>
<path d="M611.7 28.05L684.0 28.10" stroke="#dcd0a0" stroke-opacity="0.24" stroke-width="0.8" fill="none"/>
<path d="M451.9 29.85L478.8 29.88" stroke="#a49050" stroke-opacity="0.25" stroke-width="0.7" fill="none"/>
<path d="M486.2 29.88L526.4 29.92" stroke="#a49050" stroke-opacity="0.21" stroke-width="0.7" fill="none"/>
<path d="M533.3 29.92L577.1 29.96" stroke="#a49050" stroke-opacity="0.32" stroke-width="0.7" fill="none"/>
<path d="M585.5 29.97L652.2 30.02" stroke="#a49050" stroke-opacity="0.35" stroke-width="0.7" fill="none"/>
<path d="M665.1 30.03L684.0 30.05" stroke="#a49050" stroke-opacity="0.30" stroke-width="0.7" fill="none"/>
<path d="M451.9 31.76L537.8 31.85" stroke="#e0d6aa" stroke-opacity="0.32" stroke-width="0.7" fill="none"/>
<path d="M547.8 31.86L592.5 31.91" stroke="#e0d6aa" stroke-opacity="0.33" stroke-width="0.7" fill="none"/>
<path d="M605.2 31.92L663.1 31.98" stroke="#e0d6aa" stroke-opacity="0.18" stroke-width="0.7" fill="none"/>
<path d="M666.7 31.98L684.0 32.00" stroke="#e0d6aa" stroke-opacity="0.21" stroke-width="0.7" fill="none"/>
<linearGradient id="e2" x1="0" y1="0" x2="0" y2="1"><stop offset="0" stop-color="#705e44"/><stop offset="0.1" stop-color="#6c5226"/><stop offset="0.25" stop-color="#82652e"/><stop offset="0.45" stop-color="#9a7c42"/><stop offset="0.6" stop-color="#8a6c36"/><stop offset="0.8" stop-color="#a08452"/><stop offset="0.94" stop-color="#ae9a6a"/><stop offset="1" stop-color="#b4a888"/></linearGradient>
<path d="M451.90 46.00L684.00 45.30" stroke="#6d6a70" stroke-opacity="0.1" stroke-width="2.2" fill="none"/>
<path d="M451.90 46.80L684.00 46.10" stroke="#6d6a70" stroke-opacity="0.16" stroke-width="1.2" fill="none"/>
<path d="M451.90 47.60L684.00 46.90L684.00 57.30L451.90 57.40Z" fill="url(#e2)"/>
<path d="M581.4 50.25L650.0 50.10" stroke="#cdb584" stroke-opacity="0.48" stroke-width="0.7" fill="none"/>
<path d="M659.1 50.08L684.0 50.02" stroke="#cdb584" stroke-opacity="0.43" stroke-width="0.7" fill="none"/>
<path d="M538.1 52.85L598.5 52.76" stroke="#5e4420" stroke-opacity="0.29" stroke-width="0.6" fill="none"/>
<path d="M599.0 52.76L625.8 52.71" stroke="#5e4420" stroke-opacity="0.30" stroke-width="0.6" fill="none"/>
<path d="M631.5 52.70L684.0 52.62" stroke="#5e4420" stroke-opacity="0.35" stroke-width="0.6" fill="none"/>
<path d="M451.9 54.46L478.5 54.43" stroke="#c8b080" stroke-opacity="0.31" stroke-width="0.6" fill="none"/>
<path d="M486.1 54.42L576.0 54.31" stroke="#c8b080" stroke-opacity="0.33" stroke-width="0.6" fill="none"/>
<path d="M589.4 54.29L666.2 54.20" stroke="#c8b080" stroke-opacity="0.52" stroke-width="0.6" fill="none"/>
<path d="M677.7 54.19L684.0 54.18" stroke="#c8b080" stroke-opacity="0.54" stroke-width="0.6" fill="none"/>
<path d="M498.1 49.44L553.1 49.31" stroke="#5a401c" stroke-opacity="0.30" stroke-width="0.5" fill="none"/>
<path d="M524.7 51.38L581.3 51.26" stroke="#bca070" stroke-opacity="0.26" stroke-width="0.5" fill="none"/>
<path d="M631.6 51.16L684.0 51.06" stroke="#bca070" stroke-opacity="0.39" stroke-width="0.5" fill="none"/>
<linearGradient id="e3" x1="0" y1="0" x2="0" y2="1"><stop offset="0" stop-color="#705e44"/><stop offset="0.1" stop-color="#6c5226"/><stop offset="0.25" stop-color="#82652e"/><stop offset="0.45" stop-color="#9a7c42"/><stop offset="0.6" stop-color="#8a6c36"/><stop offset="0.8" stop-color="#a08452"/><stop offset="0.94" stop-color="#ae9a6a"/><stop offset="1" stop-color="#b4a888"/></linearGradient>
<path d="M451.90 70.20L684.00 66.70" stroke="#6d6a70" stroke-opacity="0.1" stroke-width="2.2" fill="none"/>
<path d="M451.90 71.00L684.00 67.50" stroke="#6d6a70" stroke-opacity="0.16" stroke-width="1.2" fill="none"/>
<path d="M451.90 71.80L684.00 68.30L684.00 77.40L451.90 80.90Z" fill="url(#e3)"/>
<path d="M451.9 74.53L492.4 73.92" stroke="#cdb584" stroke-opacity="0.41" stroke-width="0.7" fill="none"/>
<path d="M501.4 73.78L567.1 72.79" stroke="#cdb584" stroke-opacity="0.30" stroke-width="0.7" fill="none"/>
<path d="M579.7 72.60L621.5 71.97" stroke="#cdb584" stroke-opacity="0.60" stroke-width="0.7" fill="none"/>
<path d="M628.6 71.87L684.0 71.03" stroke="#cdb584" stroke-opacity="0.49" stroke-width="0.7" fill="none"/>
<path d="M526.0 75.69L599.2 74.58" stroke="#5e4420" stroke-opacity="0.24" stroke-width="0.6" fill="none"/>
<path d="M610.6 74.41L674.0 73.46" stroke="#5e4420" stroke-opacity="0.23" stroke-width="0.6" fill="none"/>
<path d="M451.9 78.17L507.6 77.33" stroke="#c8b080" stroke-opacity="0.52" stroke-width="0.6" fill="none"/>
<path d="M518.3 77.17L603.2 75.89" stroke="#c8b080" stroke-opacity="0.50" stroke-width="0.6" fill="none"/>
<path d="M451.9 73.62L485.7 73.11" stroke="#5a401c" stroke-opacity="0.39" stroke-width="0.5" fill="none"/>
<path d="M492.3 73.01L558.0 72.02" stroke="#5a401c" stroke-opacity="0.30" stroke-width="0.5" fill="none"/>
<path d="M563.8 71.93L611.6 71.21" stroke="#5a401c" stroke-opacity="0.32" stroke-width="0.5" fill="none"/>
<path d="M451.9 75.44L541.3 74.09" stroke="#bca070" stroke-opacity="0.23" stroke-width="0.5" fill="none"/>
<path d="M650.5 72.45L684.0 71.94" stroke="#bca070" stroke-opacity="0.37" stroke-width="0.5" fill="none"/>
<linearGradient id="e4" x1="0" y1="0" x2="0" y2="1"><stop offset="0" stop-color="#705e44"/><stop offset="0.1" stop-color="#6c5226"/><stop offset="0.25" stop-color="#82652e"/><stop offset="0.45" stop-color="#9a7c42"/><stop offset="0.6" stop-color="#8a6c36"/><stop offset="0.8" stop-color="#a08452"/><stop offset="0.94" stop-color="#ae9a6a"/><stop offset="1" stop-color="#b4a888"/></linearGradient>
<path d="M451.90 92.80L684.00 90.10" stroke="#6d6a70" stroke-opacity="0.1" stroke-width="2.2" fill="none"/>
<path d="M451.90 93.60L684.00 90.90" stroke="#6d6a70" stroke-opacity="0.16" stroke-width="1.2" fill="none"/>
<path d="M451.90 94.40L684.00 91.70L684.00 100.50L451.90 103.00Z" fill="url(#e4)"/>
<path d="M451.9 96.98L492.2 96.52" stroke="#cdb584" stroke-opacity="0.42" stroke-width="0.7" fill="none"/>
<path d="M494.6 96.49L523.9 96.16" stroke="#cdb584" stroke-opacity="0.58" stroke-width="0.7" fill="none"/>
<path d="M535.9 96.02L610.6 95.17" stroke="#cdb584" stroke-opacity="0.46" stroke-width="0.7" fill="none"/>
<path d="M614.8 95.13L651.0 94.72" stroke="#cdb584" stroke-opacity="0.36" stroke-width="0.7" fill="none"/>
<path d="M451.9 99.13L489.5 98.71" stroke="#5e4420" stroke-opacity="0.37" stroke-width="0.6" fill="none"/>
<path d="M582.3 97.67L646.7 96.96" stroke="#5e4420" stroke-opacity="0.34" stroke-width="0.6" fill="none"/>
<path d="M649.4 96.93L684.0 96.54" stroke="#5e4420" stroke-opacity="0.44" stroke-width="0.6" fill="none"/>
<path d="M451.9 100.42L512.5 99.75" stroke="#c8b080" stroke-opacity="0.52" stroke-width="0.6" fill="none"/>
<path d="M611.1 98.66L663.0 98.09" stroke="#c8b080" stroke-opacity="0.39" stroke-width="0.6" fill="none"/>
<path d="M451.9 96.12L479.9 95.80" stroke="#5a401c" stroke-opacity="0.26" stroke-width="0.5" fill="none"/>
<path d="M487.9 95.71L543.6 95.07" stroke="#5a401c" stroke-opacity="0.40" stroke-width="0.5" fill="none"/>
<path d="M546.5 95.04L598.3 94.44" stroke="#5a401c" stroke-opacity="0.33" stroke-width="0.5" fill="none"/>
<path d="M602.5 94.39L650.6 93.84" stroke="#5a401c" stroke-opacity="0.26" stroke-width="0.5" fill="none"/>
<path d="M659.0 93.75L684.0 93.46" stroke="#5a401c" stroke-opacity="0.21" stroke-width="0.5" fill="none"/>
<path d="M451.9 97.84L526.6 97.00" stroke="#bca070" stroke-opacity="0.25" stroke-width="0.5" fill="none"/>
<path d="M531.6 96.94L568.1 96.53" stroke="#bca070" stroke-opacity="0.21" stroke-width="0.5" fill="none"/>
<path d="M672.9 95.35L684.0 95.22" stroke="#bca070" stroke-opacity="0.26" stroke-width="0.5" fill="none"/>
<linearGradient id="e5" x1="0" y1="0" x2="0" y2="1"><stop offset="0" stop-color="#705e44"/><stop offset="0.1" stop-color="#6c5226"/><stop offset="0.25" stop-color="#82652e"/><stop offset="0.45" stop-color="#9a7c42"/><stop offset="0.6" stop-color="#8a6c36"/><stop offset="0.8" stop-color="#a08452"/><stop offset="0.94" stop-color="#ae9a6a"/><stop offset="1" stop-color="#b4a888"/></linearGradient>
<path d="M451.90 117.10Q565.00 119.90 684.00 116.70" stroke="#6d6a70" stroke-opacity="0.1" stroke-width="2.2" fill="none"/>
<path d="M451.90 117.90Q565.00 120.70 684.00 117.50" stroke="#6d6a70" stroke-opacity="0.16" stroke-width="1.2" fill="none"/>
<path d="M451.90 118.70Q565.00 121.50 684.00 118.30L684.00 127.20Q565.00 131.10 451.90 128.20Z" fill="url(#e5)"/>
<path d="M451.9 121.55L517.4 122.65" stroke="#cdb584" stroke-opacity="0.54" stroke-width="0.7" fill="none"/>
<path d="M670.1 121.36L684.0 120.97" stroke="#cdb584" stroke-opacity="0.44" stroke-width="0.7" fill="none"/>
<path d="M451.9 123.92L512.2 124.97" stroke="#5e4420" stroke-opacity="0.23" stroke-width="0.6" fill="none"/>
<path d="M607.6 124.86L672.7 123.53" stroke="#5e4420" stroke-opacity="0.23" stroke-width="0.6" fill="none"/>
<path d="M451.9 125.35L490.5 126.12" stroke="#c8b080" stroke-opacity="0.55" stroke-width="0.6" fill="none"/>
<path d="M555.5 126.61L624.6 125.99" stroke="#c8b080" stroke-opacity="0.53" stroke-width="0.6" fill="none"/>
<path d="M451.9 120.60L500.4 121.51" stroke="#5a401c" stroke-opacity="0.23" stroke-width="0.5" fill="none"/>
<path d="M501.4 121.52L545.9 121.87" stroke="#5a401c" stroke-opacity="0.20" stroke-width="0.5" fill="none"/>
<path d="M556.1 121.89L603.1 121.66" stroke="#5a401c" stroke-opacity="0.36" stroke-width="0.5" fill="none"/>
<path d="M610.3 121.58L655.8 120.80" stroke="#5a401c" stroke-opacity="0.34" stroke-width="0.5" fill="none"/>
<path d="M656.7 120.78L684.0 120.08" stroke="#5a401c" stroke-opacity="0.35" stroke-width="0.5" fill="none"/>
<path d="M483.6 123.16L546.2 123.76" stroke="#bca070" stroke-opacity="0.21" stroke-width="0.5" fill="none"/>
<path d="M548.9 123.77L636.0 123.03" stroke="#bca070" stroke-opacity="0.35" stroke-width="0.5" fill="none"/>
<path d="M649.9 122.75L684.0 121.86" stroke="#bca070" stroke-opacity="0.27" stroke-width="0.5" fill="none"/>
<text x="452.30" y="16.50" font-size="12.2" fill="#222222" font-family='"Liberation Sans", sans-serif' stroke="#222222" stroke-width="0.15">untreated</text>
<text x="458.20" y="45.50" font-size="12.2" fill="#222222" font-family='"Liberation Sans", sans-serif' stroke="#222222" stroke-width="0.15">23</text>
<circle cx="474.12" cy="37.90" r="1.3" fill="none" stroke="#222222" stroke-width="0.8"/>
<text x="475.52" y="45.50" font-size="12.2" fill="#222222" font-family='"Liberation Sans", sans-serif' stroke="#222222" stroke-width="0.15">C</text>
<text x="458.20" y="70.50" font-size="12.2" fill="#222222" font-family='"Liberation Sans", sans-serif' stroke="#222222" stroke-width="0.15">40</text>
<circle cx="474.12" cy="62.90" r="1.3" fill="none" stroke="#222222" stroke-width="0.8"/>
<text x="475.52" y="70.50" font-size="12.2" fill="#222222" font-family='"Liberation Sans", sans-serif' stroke="#222222" stroke-width="0.15">C</text>
<text x="458.20" y="91.40" font-size="12.2" fill="#222222" font-family='"Liberation Sans", sans-serif' stroke="#222222" stroke-width="0.15">60</text>
<circle cx="474.12" cy="83.80" r="1.3" fill="none" stroke="#222222" stroke-width="0.8"/>
<text x="475.52" y="91.40" font-size="12.2" fill="#222222" font-family='"Liberation Sans", sans-serif' stroke="#222222" stroke-width="0.15">C</text>
<text x="458.20" y="115.60" font-size="12.2" fill="#222222" font-family='"Liberation Sans", sans-serif' stroke="#222222" stroke-width="0.15">80</text>
<circle cx="474.12" cy="108.00" r="1.3" fill="none" stroke="#222222" stroke-width="0.8"/>
<text x="475.52" y="115.60" font-size="12.2" fill="#222222" font-family='"Liberation Sans", sans-serif' stroke="#222222" stroke-width="0.15">C</text>
<text x="540.50" y="156.40" font-size="12.2" fill="#222222" font-family='"Liberation Sans", sans-serif' stroke="#222222" stroke-width="0.15">outer bamboo</text>
<text x="428.7" y="15.8" font-size="15" font-weight="bold" fill="#1a1a1a" stroke="#1a1a1a" stroke-width="0.3" font-family='"Liberation Sans", sans-serif'>(e)</text>
<linearGradient id="bgF" x1="0" y1="0" x2="0" y2="1"><stop offset="0" stop-color="#dde3f1"/><stop offset="0.85" stop-color="#dbe3f1"/><stop offset="1" stop-color="#dce4f1"/></linearGradient>
<rect x="450.4" y="183.2" width="233.6" height="141.4" fill="url(#bgF)"/>
<linearGradient id="f1" x1="0" y1="0" x2="0" y2="1"><stop offset="0" stop-color="#c4b896"/><stop offset="0.08" stop-color="#d0ba82"/><stop offset="0.4" stop-color="#dac48a"/><stop offset="0.7" stop-color="#d6be84"/><stop offset="0.9" stop-color="#d8c690"/><stop offset="1" stop-color="#d8d2be"/></linearGradient>
<path d="M450.40 194.90L682.60 193.90" stroke="#6d6a70" stroke-opacity="0.1" stroke-width="2.2" fill="none"/>
<path d="M450.40 195.70L682.60 194.70" stroke="#6d6a70" stroke-opacity="0.16" stroke-width="1.2" fill="none"/>
<path d="M450.40 196.50L682.60 195.50L682.60 209.20L450.40 210.10Z" fill="url(#f1)"/>
<path d="M450.4 199.90L504.8 199.67" stroke="#e6d6a4" stroke-opacity="0.38" stroke-width="0.8" fill="none"/>
<path d="M511.8 199.64L569.8 199.40" stroke="#e6d6a4" stroke-opacity="0.24" stroke-width="0.8" fill="none"/>
<path d="M644.8 199.08L682.6 198.93" stroke="#e6d6a4" stroke-opacity="0.36" stroke-width="0.8" fill="none"/>
<path d="M492.6 203.13L560.1 202.85" stroke="#c4aa6c" stroke-opacity="0.17" stroke-width="0.7" fill="none"/>
<path d="M560.3 202.85L619.7 202.61" stroke="#c4aa6c" stroke-opacity="0.18" stroke-width="0.7" fill="none"/>
<path d="M623.3 202.59L650.3 202.48" stroke="#c4aa6c" stroke-opacity="0.22" stroke-width="0.7" fill="none"/>
<path d="M662.9 202.43L682.6 202.35" stroke="#c4aa6c" stroke-opacity="0.22" stroke-width="0.7" fill="none"/>
<path d="M450.4 206.02L505.1 205.80" stroke="#e4d4a0" stroke-opacity="0.35" stroke-width="0.8" fill="none"/>
<path d="M520.1 205.74L599.7 205.42" stroke="#e4d4a0" stroke-opacity="0.23" stroke-width="0.8" fill="none"/>
<path d="M603.1 205.41L646.9 205.23" stroke="#e4d4a0" stroke-opacity="0.31" stroke-width="0.8" fill="none"/>
<path d="M652.9 205.21L682.6 205.09" stroke="#e4d4a0" stroke-opacity="0.34" stroke-width="0.8" fill="none"/>
<linearGradient id="f2" x1="0" y1="0" x2="0" y2="1"><stop offset="0" stop-color="#8a7a5c"/><stop offset="0.1" stop-color="#9a7e4a"/><stop offset="0.35" stop-color="#ae925c"/><stop offset="0.55" stop-color="#a2864f"/><stop offset="0.8" stop-color="#9a7e4c"/><stop offset="0.95" stop-color="#a89470"/><stop offset="1" stop-color="#aea488"/></linearGradient>
<path d="M450.40 224.50L684.00 226.20" stroke="#6d6a70" stroke-opacity="0.1" stroke-width="2.2" fill="none"/>
<path d="M450.40 225.30L684.00 227.00" stroke="#6d6a70" stroke-opacity="0.16" stroke-width="1.2" fill="none"/>
<path d="M450.40 226.10L684.00 227.80L684.00 235.90L450.40 235.00Z" fill="url(#f2)"/>
<path d="M450.4 228.77L506.2 229.12" stroke="#d2bc8a" stroke-opacity="0.46" stroke-width="0.6" fill="none"/>
<path d="M508.4 229.13L534.1 229.29" stroke="#d2bc8a" stroke-opacity="0.35" stroke-width="0.6" fill="none"/>
<path d="M546.2 229.37L616.1 229.81" stroke="#d2bc8a" stroke-opacity="0.43" stroke-width="0.6" fill="none"/>
<path d="M626.1 229.87L660.5 230.08" stroke="#d2bc8a" stroke-opacity="0.32" stroke-width="0.6" fill="none"/>
<path d="M450.4 230.55L520.1 230.94" stroke="#7a6232" stroke-opacity="0.28" stroke-width="0.6" fill="none"/>
<path d="M532.7 231.01L558.9 231.15" stroke="#7a6232" stroke-opacity="0.38" stroke-width="0.6" fill="none"/>
<path d="M611.6 231.45L644.0 231.63" stroke="#7a6232" stroke-opacity="0.23" stroke-width="0.6" fill="none"/>
<path d="M648.6 231.65L684.0 231.85" stroke="#7a6232" stroke-opacity="0.34" stroke-width="0.6" fill="none"/>
<path d="M492.5 232.71L544.8 232.96" stroke="#ccb484" stroke-opacity="0.37" stroke-width="0.6" fill="none"/>
<path d="M550.5 232.99L577.5 233.12" stroke="#ccb484" stroke-opacity="0.49" stroke-width="0.6" fill="none"/>
<path d="M592.2 233.19L660.3 233.52" stroke="#ccb484" stroke-opacity="0.34" stroke-width="0.6" fill="none"/>
<path d="M670.6 233.57L684.0 233.63" stroke="#ccb484" stroke-opacity="0.31" stroke-width="0.6" fill="none"/>
<path d="M549.4 228.53L608.2 228.92" stroke="#786030" stroke-opacity="0.25" stroke-width="0.5" fill="none"/>
<path d="M614.0 228.96L684.0 229.42" stroke="#786030" stroke-opacity="0.27" stroke-width="0.5" fill="none"/>
<linearGradient id="f3" x1="0" y1="0" x2="0" y2="1"><stop offset="0" stop-color="#8a7a5c"/><stop offset="0.1" stop-color="#9a7e4a"/><stop offset="0.35" stop-color="#ae925c"/><stop offset="0.55" stop-color="#a2864f"/><stop offset="0.8" stop-color="#9a7e4c"/><stop offset="0.95" stop-color="#a89470"/><stop offset="1" stop-color="#aea488"/></linearGradient>
<path d="M450.40 251.70Q565.00 252.65 684.00 255.80" stroke="#6d6a70" stroke-opacity="0.1" stroke-width="2.2" fill="none"/>
<path d="M450.40 252.50Q565.00 253.45 684.00 256.60" stroke="#6d6a70" stroke-opacity="0.16" stroke-width="1.2" fill="none"/>
<path d="M450.40 253.30Q565.00 254.25 684.00 257.40L684.00 265.00Q565.00 263.20 450.40 261.40Z" fill="url(#f3)"/>
<path d="M450.4 255.73L492.2 256.21" stroke="#d2bc8a" stroke-opacity="0.46" stroke-width="0.6" fill="none"/>
<path d="M505.0 256.38L542.0 256.91" stroke="#d2bc8a" stroke-opacity="0.32" stroke-width="0.6" fill="none"/>
<path d="M545.4 256.97L618.1 258.25" stroke="#d2bc8a" stroke-opacity="0.42" stroke-width="0.6" fill="none"/>
<path d="M621.3 258.32L665.5 259.25" stroke="#d2bc8a" stroke-opacity="0.51" stroke-width="0.6" fill="none"/>
<path d="M674.6 259.46L684.0 259.68" stroke="#d2bc8a" stroke-opacity="0.32" stroke-width="0.6" fill="none"/>
<path d="M674.7 261.01L684.0 261.20" stroke="#7a6232" stroke-opacity="0.29" stroke-width="0.6" fill="none"/>
<path d="M450.4 259.13L503.3 259.87" stroke="#ccb484" stroke-opacity="0.28" stroke-width="0.6" fill="none"/>
<path d="M602.9 261.43L663.9 262.50" stroke="#ccb484" stroke-opacity="0.28" stroke-width="0.6" fill="none"/>
<path d="M674.1 262.69L684.0 262.87" stroke="#ccb484" stroke-opacity="0.30" stroke-width="0.6" fill="none"/>
<path d="M450.4 254.92L491.9 255.37" stroke="#786030" stroke-opacity="0.28" stroke-width="0.5" fill="none"/>
<path d="M497.8 255.45L531.3 255.91" stroke="#786030" stroke-opacity="0.22" stroke-width="0.5" fill="none"/>
<path d="M534.8 255.96L572.5 256.57" stroke="#786030" stroke-opacity="0.19" stroke-width="0.5" fill="none"/>
<path d="M582.2 256.74L669.2 258.56" stroke="#786030" stroke-opacity="0.30" stroke-width="0.5" fill="none"/>
<path d="M683.2 258.90L684.0 258.92" stroke="#786030" stroke-opacity="0.32" stroke-width="0.5" fill="none"/>
<linearGradient id="f4" x1="0" y1="0" x2="0" y2="1"><stop offset="0" stop-color="#8a7a5c"/><stop offset="0.1" stop-color="#9a7e4a"/><stop offset="0.35" stop-color="#ae925c"/><stop offset="0.55" stop-color="#a2864f"/><stop offset="0.8" stop-color="#9a7e4c"/><stop offset="0.95" stop-color="#a89470"/><stop offset="1" stop-color="#aea488"/></linearGradient>
<path d="M450.40 276.70L684.00 275.80" stroke="#6d6a70" stroke-opacity="0.1" stroke-width="2.2" fill="none"/>
<path d="M450.40 277.50L684.00 276.60" stroke="#6d6a70" stroke-opacity="0.16" stroke-width="1.2" fill="none"/>
<path d="M450.40 278.30L684.00 277.40L684.00 285.20L450.40 286.20Z" fill="url(#f4)"/>
<path d="M450.4 280.67L482.3 280.54" stroke="#d2bc8a" stroke-opacity="0.45" stroke-width="0.6" fill="none"/>
<path d="M496.4 280.49L539.1 280.32" stroke="#d2bc8a" stroke-opacity="0.48" stroke-width="0.6" fill="none"/>
<path d="M548.9 280.28L593.6 280.10" stroke="#d2bc8a" stroke-opacity="0.38" stroke-width="0.6" fill="none"/>
<path d="M605.3 280.05L638.0 279.92" stroke="#d2bc8a" stroke-opacity="0.52" stroke-width="0.6" fill="none"/>
<path d="M450.4 282.25L485.1 282.11" stroke="#7a6232" stroke-opacity="0.33" stroke-width="0.6" fill="none"/>
<path d="M487.6 282.10L555.0 281.82" stroke="#7a6232" stroke-opacity="0.27" stroke-width="0.6" fill="none"/>
<path d="M600.6 281.64L684.0 281.30" stroke="#7a6232" stroke-opacity="0.32" stroke-width="0.6" fill="none"/>
<path d="M450.4 283.99L520.0 283.70" stroke="#ccb484" stroke-opacity="0.40" stroke-width="0.6" fill="none"/>
<path d="M529.6 283.66L566.3 283.51" stroke="#ccb484" stroke-opacity="0.47" stroke-width="0.6" fill="none"/>
<path d="M574.0 283.47L611.6 283.32" stroke="#ccb484" stroke-opacity="0.30" stroke-width="0.6" fill="none"/>
<path d="M623.6 283.27L681.1 283.03" stroke="#ccb484" stroke-opacity="0.45" stroke-width="0.6" fill="none"/>
<path d="M682.5 283.02L684.0 283.02" stroke="#ccb484" stroke-opacity="0.44" stroke-width="0.6" fill="none"/>
<path d="M450.4 279.88L509.6 279.65" stroke="#786030" stroke-opacity="0.26" stroke-width="0.5" fill="none"/>
<path d="M519.9 279.61L579.6 279.37" stroke="#786030" stroke-opacity="0.26" stroke-width="0.5" fill="none"/>
<path d="M586.2 279.35L649.9 279.09" stroke="#786030" stroke-opacity="0.26" stroke-width="0.5" fill="none"/>
<ellipse cx="642" cy="290.5" rx="44" ry="3.6" fill="#f4f6fb" opacity="0.55"/>
<path d="M590 297.6 Q640 295.2 684 293.4" stroke="#9aa0ac" stroke-opacity="0.35" stroke-width="1.6" fill="none"/>
<linearGradient id="f5" x1="0" y1="0" x2="0" y2="1"><stop offset="0" stop-color="#8a7a5c"/><stop offset="0.1" stop-color="#9a7e4a"/><stop offset="0.35" stop-color="#ae925c"/><stop offset="0.55" stop-color="#a2864f"/><stop offset="0.8" stop-color="#9a7e4c"/><stop offset="0.95" stop-color="#a89470"/><stop offset="1" stop-color="#aea488"/></linearGradient>
<path d="M450.40 298.10Q565.00 300.85 684.00 297.40" stroke="#6d6a70" stroke-opacity="0.1" stroke-width="2.2" fill="none"/>
<path d="M450.40 298.90Q565.00 301.65 684.00 298.20" stroke="#6d6a70" stroke-opacity="0.16" stroke-width="1.2" fill="none"/>
<path d="M450.40 299.70Q565.00 302.45 684.00 299.00L684.00 306.80Q565.00 310.10 450.40 307.00Z" fill="url(#f5)"/>
<path d="M450.4 301.89L538.1 303.15" stroke="#d2bc8a" stroke-opacity="0.48" stroke-width="0.6" fill="none"/>
<path d="M540.5 303.16L629.6 302.59" stroke="#d2bc8a" stroke-opacity="0.52" stroke-width="0.6" fill="none"/>
<path d="M450.4 303.35L497.4 304.27" stroke="#7a6232" stroke-opacity="0.26" stroke-width="0.6" fill="none"/>
<path d="M554.3 304.71L631.1 304.10" stroke="#7a6232" stroke-opacity="0.38" stroke-width="0.6" fill="none"/>
<path d="M638.8 303.97L678.9 303.05" stroke="#7a6232" stroke-opacity="0.28" stroke-width="0.6" fill="none"/>
<path d="M680.0 303.01L684.0 302.90" stroke="#7a6232" stroke-opacity="0.31" stroke-width="0.6" fill="none"/>
<path d="M450.4 304.96L517.4 306.16" stroke="#ccb484" stroke-opacity="0.47" stroke-width="0.6" fill="none"/>
<path d="M589.4 306.28L623.6 305.92" stroke="#ccb484" stroke-opacity="0.48" stroke-width="0.6" fill="none"/>
<path d="M633.9 305.76L684.0 304.62" stroke="#ccb484" stroke-opacity="0.37" stroke-width="0.6" fill="none"/>
<path d="M450.4 301.16L481.9 301.81" stroke="#786030" stroke-opacity="0.18" stroke-width="0.5" fill="none"/>
<path d="M488.9 301.92L568.6 302.42" stroke="#786030" stroke-opacity="0.25" stroke-width="0.5" fill="none"/>
<path d="M618.0 301.99L658.3 301.24" stroke="#786030" stroke-opacity="0.32" stroke-width="0.5" fill="none"/>
<path d="M663.1 301.12L684.0 300.56" stroke="#786030" stroke-opacity="0.25" stroke-width="0.5" fill="none"/>
<text x="451.10" y="193.40" font-size="12.2" fill="#222222" font-family='"Liberation Sans", sans-serif' stroke="#222222" stroke-width="0.15">untreated</text>
<text x="456.50" y="221.60" font-size="12.2" fill="#222222" font-family='"Liberation Sans", sans-serif' stroke="#222222" stroke-width="0.15">23</text>
<circle cx="472.42" cy="214.00" r="1.3" fill="none" stroke="#222222" stroke-width="0.8"/>
<text x="473.82" y="221.60" font-size="12.2" fill="#222222" font-family='"Liberation Sans", sans-serif' stroke="#222222" stroke-width="0.15">C</text>
<text x="456.50" y="249.60" font-size="12.2" fill="#222222" font-family='"Liberation Sans", sans-serif' stroke="#222222" stroke-width="0.15">40</text>
<circle cx="472.42" cy="242.00" r="1.3" fill="none" stroke="#222222" stroke-width="0.8"/>
<text x="473.82" y="249.60" font-size="12.2" fill="#222222" font-family='"Liberation Sans", sans-serif' stroke="#222222" stroke-width="0.15">C</text>
<text x="456.50" y="272.50" font-size="12.2" fill="#222222" font-family='"Liberation Sans", sans-serif' stroke="#222222" stroke-width="0.15">60</text>
<circle cx="472.42" cy="264.90" r="1.3" fill="none" stroke="#222222" stroke-width="0.8"/>
<text x="473.82" y="272.50" font-size="12.2" fill="#222222" font-family='"Liberation Sans", sans-serif' stroke="#222222" stroke-width="0.15">C</text>
<text x="456.50" y="297.60" font-size="12.2" fill="#222222" font-family='"Liberation Sans", sans-serif' stroke="#222222" stroke-width="0.15">80</text>
<circle cx="472.42" cy="290.00" r="1.3" fill="none" stroke="#222222" stroke-width="0.8"/>
<text x="473.82" y="297.60" font-size="12.2" fill="#222222" font-family='"Liberation Sans", sans-serif' stroke="#222222" stroke-width="0.15">C</text>
<text x="539.30" y="339.20" font-size="12.2" fill="#222222" font-family='"Liberation Sans", sans-serif' stroke="#222222" stroke-width="0.15">inner bamboo</text>
<text x="431.2" y="194.2" font-size="14.5" font-weight="bold" fill="#1a1a1a" stroke="#1a1a1a" stroke-width="0.15" font-family='"Liberation Sans", sans-serif'>(f)</text>
</svg></body></html>
